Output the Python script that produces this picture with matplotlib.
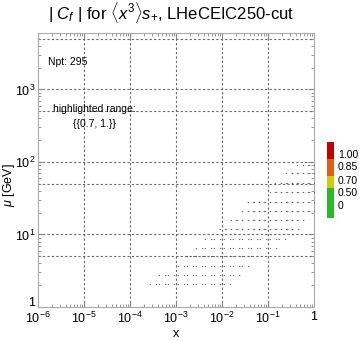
#!/usr/bin/env python3
"""plot.py - |C_f| scan for <x^3>s+ with LHeCEIC250-cut pseudodata points."""

import numpy as np
import matplotlib
matplotlib.use("Agg")
import matplotlib.pyplot as plt
from matplotlib.ticker import LogLocator, NullFormatter, FixedLocator

plt.rcParams["font.family"] = ["Liberation Sans", "DejaVu Sans"]
plt.rcParams["mathtext.fontset"] = "custom"
plt.rcParams["mathtext.rm"] = "Liberation Sans"
plt.rcParams["mathtext.it"] = "Liberation Sans:italic"

# -*- data points: one row per mu value, log10(x) of the points in that row
mu_rows = [91, 70, 52, 39, 28, 21, 16, 12, 8.8, 6.6, 5.0, 3.65, 2.74, 2.07]
logx_rows = [
    [-0.30, -0.18, -0.06],
    [-0.54, -0.42, -0.30, -0.18, -0.06],
    [-0.78, -0.66, -0.54, -0.42, -0.30, -0.18, -0.06],
    [-0.90, -0.78, -0.66, -0.54, -0.42, -0.30, -0.18, -0.06],
    [-1.38, -1.26, -1.14, -1.02, -0.90, -0.78, -0.66, -0.54, -0.42, -0.30,
     -0.18, -0.06],
    [-1.50, -1.38, -1.26, -1.14, -1.02, -0.90, -0.78, -0.66, -0.54, -0.42,
     -0.30, -0.18, -0.06],
    [-1.74, -1.62, -1.50, -1.38, -1.26, -1.14, -1.02, -0.90, -0.78, -0.66,
     -0.54, -0.42, -0.30],
    [-1.98, -1.86, -1.74, -1.62, -1.50, -1.38, -1.26, -1.14, -1.02, -0.90,
     -0.78, -0.66, -0.54, -0.42],
    [-2.3, -2.1, -1.9, -1.7, -1.5, -1.3, -1.1, -0.9, -0.7],
    [-2.5, -2.3, -2.1, -1.9, -1.7, -1.5, -1.3, -1.1, -0.9],
    [-2.7, -2.5, -2.3, -2.1, -1.9, -1.7, -1.5, -1.3],
    [-2.9, -2.7, -2.5, -2.3, -2.1, -1.9, -1.7, -1.5],
    [-3.3, -3.1, -2.9, -2.7, -2.5, -2.3, -2.1, -1.9, -1.7],
    [-3.5, -3.3, -3.1, -2.9, -2.7, -2.5, -2.3, -2.1, -1.9],
]
n_points = 295
hl_range = "{{0.7, 1.}}"

# colour legend
leg_bottoms = [0.0, 0.40, 0.55, 0.77]
leg_heights = [0.40, 0.15, 0.22, 0.23]
leg_colors = ["#2cb82c", "#cccc10", "#e06010", "#c40000"]
leg_labels = ["0", "0.50", "0.70", "0.85", "1.00"]
leg_label_y = [206, 193, 181, 167, 155]  # pixel rows

xs = np.concatenate([10.0 ** np.array(r) for r in logx_rows])
ys = np.concatenate([[m] * len(r) for m, r in zip(mu_rows, logx_rows)])

W, H = 360, 341
fig = plt.figure(figsize=(W / 100, H / 100), dpi=100)
ax = fig.add_axes([38 / W, 34 / H, 276 / W, 274 / H])
ax.set_xscale("log")
ax.set_yscale("log")
ax.set_xlim(1e-6, 1)
ax.set_ylim(1, 6000)

ax.scatter(xs, ys, marker=r"$\cdot\,\cdot$", s=30, color="#5a5a5a",
           linewidths=0, zorder=3)

# grid lines
for gx in [1e-5, 1e-4, 1e-3, 1e-2, 1e-1]:
    ax.axvline(gx, color="#666666", lw=0.8, ls=(0, (2, 2)), zorder=1)
for gy in [5, 10, 50, 100, 500, 1000, 5000]:
    ax.axhline(gy, color="#666666", lw=0.8, ls=(0, (2, 2)), zorder=1)

ax.xaxis.set_major_locator(FixedLocator([1e-6, 1e-5, 1e-4, 1e-3, 1e-2, 1e-1, 1]))
ax.set_xticklabels([r"$10^{-6}$", r"$10^{-5}$", r"$10^{-4}$", r"$10^{-3}$",
                    r"$10^{-2}$", r"$10^{-1}$", "1"])
ax.yaxis.set_major_locator(FixedLocator([1, 10, 100, 1000]))
ax.set_yticklabels(["", r"$10^{1}$", r"$10^{2}$", r"$10^{3}$"])
ax.xaxis.set_minor_locator(LogLocator(base=10, subs=np.arange(2, 10), numticks=20))
ax.yaxis.set_minor_locator(LogLocator(base=10, subs=np.arange(2, 10), numticks=20))
ax.xaxis.set_minor_formatter(NullFormatter())
ax.yaxis.set_minor_formatter(NullFormatter())
ax.tick_params(which="both", direction="in", top=True, right=True,
               color="#888888", labelsize=9, pad=2)
ax.tick_params(axis="x", pad=3)
ax.tick_params(which="major", length=4)
ax.tick_params(which="minor", length=2)
for sp in ax.spines.values():
    sp.set_color("#aaaaaa")
    sp.set_linewidth(0.8)

# y tick label "1" placed a bit higher so it clears the 10^-6 label
fig.text(35 / W, 1 - 303 / H, "1", fontsize=9, ha="right", va="center")

ax.set_xlabel("x", fontsize=9, labelpad=1)
fig.text(9 / W, 1 - 185 / H, r"$\mu$ [GeV]", fontsize=9, rotation=90,
         ha="center", va="center")

fig.text(48 / W, 1 - 13 / H,
         r"| $C_f$ | for $\langle x^3\rangle s_{+}$, LHeCEIC250-cut",
         fontsize=12, ha="left", va="center")
fig.text(48 / W, 1 - 62 / H, f"Npt: {n_points}", fontsize=7.5,
         ha="left", va="center")
fig.text(94 / W, 1 - 109 / H, "highlighted range:", fontsize=7.5,
         ha="center", va="center")
fig.text(94 / W, 1 - 124 / H, hl_range, fontsize=7.5, ha="center", va="center")

# colour legend bar
cax = fig.add_axes([327 / W, 1 - 218 / H, 7 / W, 76 / H])
cax.bar([0] * 4, leg_heights, bottom=leg_bottoms, width=1.0,
        color=leg_colors, align="edge")
cax.set_xlim(0, 1)
cax.set_ylim(0, 1)
cax.axis("off")
for lab, py in zip(leg_labels, leg_label_y):
    fig.text(338 / W, 1 - py / H, lab, fontsize=7.5, ha="left", va="center")

fig.savefig("out.png", dpi=100)
